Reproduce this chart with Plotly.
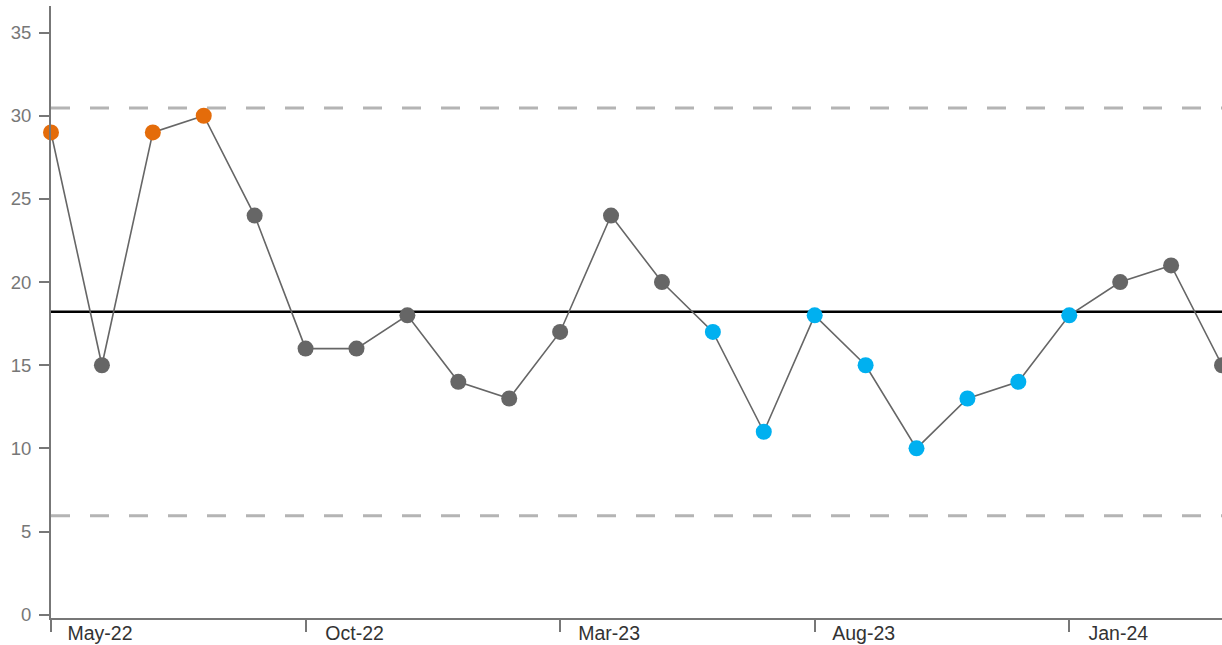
import plotly.graph_objects as go

# Monthly counts, May-22 through Apr-24
months = ["May-22", "Jun-22", "Jul-22", "Aug-22", "Sep-22", "Oct-22", "Nov-22", "Dec-22",
          "Jan-23", "Feb-23", "Mar-23", "Apr-23", "May-23", "Jun-23", "Jul-23", "Aug-23",
          "Sep-23", "Oct-23", "Nov-23", "Dec-23", "Jan-24", "Feb-24", "Mar-24", "Apr-24"]
values = [29, 15, 29, 30, 24, 16, 16, 18, 14, 13, 17, 24,
          20, 17, 11, 18, 15, 10, 13, 14, 18, 20, 21, 15]

# Point colouring: "high" special cause, "low" shift run, "common" otherwise
status = ["high", "common", "high", "high", "common", "common", "common", "common",
          "common", "common", "common", "common", "common", "low", "low", "low",
          "low", "low", "low", "low", "low", "common", "common", "common"]

# Process limits
mean_value = 18.21
upper_limit = 30.47
lower_limit = 5.95

tick_positions = [0, 5, 10, 15, 20]
tick_labels = ["May-22", "Oct-22", "Mar-23", "Aug-23", "Jan-24"]
y_ticks = [0, 5, 10, 15, 20, 25, 30, 35]

palette = {"high": "#E46C0A", "low": "#00B0F0", "common": "#666666"}
idx = list(range(len(values)))
n = len(values)

fig = go.Figure()

# Control limits (dashed) and centre line
for lim in (upper_limit, lower_limit):
    fig.add_trace(go.Scatter(
        x=[0, n - 1], y=[lim, lim], mode="lines",
        line=dict(color="#B4B4B4", width=3, dash="19px,20px"),
        hoverinfo="skip", showlegend=False, cliponaxis=False))
fig.add_trace(go.Scatter(
    x=[0, n - 1], y=[mean_value, mean_value], mode="lines",
    line=dict(color="#000000", width=2.5),
    hoverinfo="skip", showlegend=False, cliponaxis=False))

# Data line and coloured points
fig.add_trace(go.Scatter(
    x=idx, y=values, mode="lines",
    line=dict(color="#666666", width=1.6),
    showlegend=False, cliponaxis=False, hoverinfo="skip"))
fig.add_trace(go.Scatter(
    x=idx, y=values, mode="markers",
    marker=dict(size=16, color=[palette[s] for s in status], line=dict(width=0)),
    text=months, hovertemplate="%{text}: %{y}<extra></extra>",
    showlegend=False, cliponaxis=False))

fig.update_layout(
    width=1222, height=645,
    margin=dict(l=51, r=0, t=6, b=27),
    plot_bgcolor="white", paper_bgcolor="white",
    font=dict(family="Liberation Sans, Arial, sans-serif"),
    xaxis=dict(
        range=[0, n - 1], tickmode="array", tickvals=tick_positions, ticktext=tick_labels,
        showgrid=False, zeroline=False, showline=True, linecolor="#777777", linewidth=2,
        ticks="outside", ticklen=12, tickwidth=1.5, tickcolor="#777777", automargin=False,
        tickfont=dict(size=19.5, color="#333333"), ticklabelshift=49, ticklabelstandoff=-15),
    yaxis=dict(
        range=[-0.2, 36.6], tickmode="array", tickvals=y_ticks, automargin=False,
        showgrid=False, zeroline=False, showline=True, linecolor="#777777", linewidth=2,
        ticks="outside", ticklen=10, tickwidth=1.5, tickcolor="#777777",
        tickfont=dict(size=18.5, color="#777777"), ticklabelstandoff=4),
)

fig.write_html("out.html")
